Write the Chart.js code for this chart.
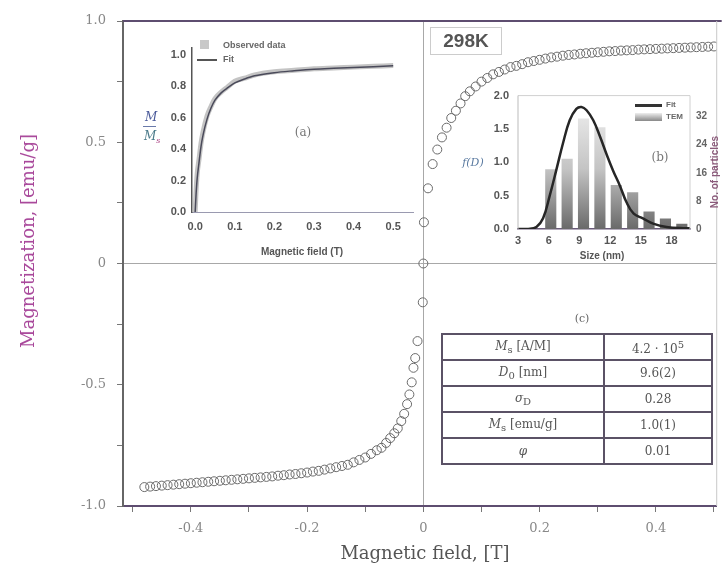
<!DOCTYPE html>
<html>
<head>
<meta charset="utf-8">
<script src="https://cdn.jsdelivr.net/npm/chart.js@4.4.0/dist/chart.umd.min.js"></script>
<style>
  body { margin: 0; background: #fff; }
  #wrap { position: relative; width: 723px; height: 567px; overflow: hidden; font-family: 'Liberation Sans', Arial, sans-serif; }
  canvas { position: absolute; }
  .lbl { position: absolute; white-space: nowrap; line-height: 1; }
  .serif { font-family: 'DejaVu Serif', serif; }
  .small { font-weight: bold; color: #666; }
  #params { position: absolute; left: 441px; top: 333px; width: 272px; border-collapse: collapse; }
  #params td { border: 2px solid #5b5266; height: 24px; padding: 0; text-align: center; font-family: 'DejaVu Serif', serif; font-size: 12px; color: #555; }
</style>
</head>
<body>
<div id="wrap">
  <canvas id="mainChart" width="723" height="567" style="left:0;top:0"></canvas>
  <canvas id="insetA" width="290" height="230" style="left:130px;top:35px"></canvas>
  <canvas id="insetB" width="263" height="190" style="left:460px;top:80px"></canvas>

  <!-- main axis titles -->
  <div class="lbl serif" style="left:425px;top:553px;transform:translate(-50%,-50%);font-size:18px;color:#555">Magnetic field, [T]</div>
  <div class="lbl serif" style="left:28px;top:241px;transform:translate(-50%,-50%) rotate(-90deg);font-size:18px;color:#a8479a">Magnetization, [emu/g]</div>

  <div class="lbl" style="left:430px;top:27px;width:70px;height:26px;border:1px solid #ccc;font-weight:bold;font-size:19px;color:#555;text-align:center;line-height:26px">298K</div>

  <!-- inset (a) texts -->
  <div class="lbl" style="left:200px;top:40px;width:9px;height:9px;background:#c8c8c8"></div>
  <div class="lbl small" style="left:223px;top:41px;font-size:9px">Observed data</div>
  <div class="lbl" style="left:197px;top:59px;width:20px;height:2px;background:#555"></div>
  <div class="lbl small" style="left:223px;top:55px;font-size:9px">Fit</div>
  <div class="lbl serif" style="left:145px;top:111px;font-size:12px;font-style:italic;color:#4a5a9a">M</div>
  <div class="lbl" style="left:143px;top:126px;width:13px;height:1px;background:#6a7aaa"></div>
  <div class="lbl serif" style="left:144px;top:130px;font-size:12px;font-style:italic;color:#4a7a8a">M<sub style="font-size:8px;color:#b04a8a">s</sub></div>
  <div class="lbl serif" style="left:303px;top:132px;transform:translate(-50%,-50%);font-size:12px;color:#777">(a)</div>
  <div class="lbl small" style="left:302px;top:252px;transform:translate(-50%,-50%);font-size:10px;color:#555">Magnetic field (T)</div>

  <!-- inset (b) texts -->
  <div class="lbl serif" style="left:473px;top:162px;transform:translate(-50%,-50%);font-size:11px;font-style:italic;color:#5a7aa0">f(D)</div>
  <div class="lbl serif" style="left:660px;top:157px;transform:translate(-50%,-50%);font-size:12px;color:#777">(b)</div>
  <div class="lbl" style="left:635px;top:104px;width:27px;height:3px;background:#333"></div>
  <div class="lbl small" style="left:666px;top:101px;font-size:8px">Fit</div>
  <div class="lbl" style="left:635px;top:113px;width:27px;height:8px;background:linear-gradient(#eee,#888)"></div>
  <div class="lbl small" style="left:666px;top:113px;font-size:8px">TEM</div>
  <div class="lbl small" style="left:602px;top:256px;transform:translate(-50%,-50%);font-size:10px;color:#555">Size (nm)</div>
  <div class="lbl small" style="left:715px;top:172px;transform:translate(-50%,-50%) rotate(-90deg);font-size:10px;color:#8a5a7a">No. of particles</div>

  <!-- table (c) -->
  <div class="lbl serif" style="left:582px;top:318px;transform:translate(-50%,-50%);font-size:11px;color:#666">(c)</div>
  <table id="params">
    <tr><td style="width:160px"><i>M</i><sub>s</sub> [A/M]</td><td>4.2 · 10<sup>5</sup></td></tr>
    <tr><td><i>D</i><sub>0</sub> [nm]</td><td>9.6(2)</td></tr>
    <tr><td><i>σ</i><sub>D</sub></td><td>0.28</td></tr>
    <tr><td><i>M</i><sub>s</sub> [emu/g]</td><td>1.0(1)</td></tr>
    <tr><td><i>φ</i></td><td>0.01</td></tr>
  </table>
</div>

<script>
// main loop: field (T) and magnetization (emu/g)
const fieldValues = [
  -0.48, -0.47, -0.46, -0.45, -0.44, -0.43, -0.42, -0.41, -0.40, -0.39,
  -0.38, -0.37, -0.36, -0.35, -0.34, -0.33, -0.32, -0.31, -0.30, -0.29,
  -0.28, -0.27, -0.26, -0.25, -0.24, -0.23, -0.22, -0.21, -0.20, -0.19,
  -0.18, -0.17, -0.16, -0.15, -0.14, -0.13, -0.12, -0.11, -0.10, -0.09,
  -0.080, -0.072, -0.064, -0.057, -0.050, -0.044, -0.038, -0.033, -0.028, -0.024,
  -0.020, -0.017, -0.014, -0.010, -0.001,
  0.000, 0.001, 0.008, 0.016, 0.024, 0.032, 0.040, 0.048, 0.056, 0.064,
  0.072, 0.080, 0.09, 0.10, 0.11, 0.12, 0.13, 0.14, 0.15, 0.16,
  0.17, 0.18, 0.19, 0.20, 0.21, 0.22, 0.23, 0.24, 0.25, 0.26,
  0.27, 0.28, 0.29, 0.30, 0.31, 0.32, 0.33, 0.34, 0.35, 0.36,
  0.37, 0.38, 0.39, 0.40, 0.41, 0.42, 0.43, 0.44, 0.45, 0.46,
  0.47, 0.48, 0.49, 0.50
];
const magValues = [
  -0.922, -0.920, -0.918, -0.916, -0.914, -0.912, -0.910, -0.908, -0.906, -0.904,
  -0.902, -0.900, -0.898, -0.896, -0.894, -0.892, -0.890, -0.888, -0.886, -0.884,
  -0.882, -0.880, -0.878, -0.875, -0.873, -0.870, -0.868, -0.865, -0.862, -0.858,
  -0.855, -0.850, -0.845, -0.840, -0.835, -0.830, -0.820, -0.810, -0.800, -0.785,
  -0.770, -0.760, -0.740, -0.720, -0.700, -0.680, -0.650, -0.620, -0.580, -0.540,
  -0.490, -0.430, -0.390, -0.320, -0.160,
  0.000, 0.170, 0.310, 0.410, 0.470, 0.520, 0.560, 0.600, 0.630, 0.660,
  0.690, 0.710, 0.730, 0.750, 0.765, 0.780, 0.790, 0.800, 0.810, 0.815,
  0.822, 0.830, 0.835, 0.840, 0.845, 0.850, 0.853, 0.857, 0.860, 0.862,
  0.865, 0.867, 0.869, 0.871, 0.873, 0.875, 0.876, 0.878, 0.879, 0.880,
  0.882, 0.883, 0.884, 0.885, 0.886, 0.887, 0.888, 0.889, 0.890, 0.891,
  0.892, 0.893, 0.894, 0.895
];
const mainXTicks = [-0.5, -0.4, -0.3, -0.2, -0.1, 0, 0.1, 0.2, 0.3, 0.4, 0.5];
const mainXLabels = ['', '-0.4', '', '-0.2', '', '0', '', '0.2', '', '0.4', ''];
const mainYTicks = [-1, -0.75, -0.5, -0.25, 0, 0.25, 0.5, 0.75, 1];
const mainYLabels = ['-1.0', '', '-0.5', '', '0', '', '0.5', '', '1.0'];

// inset (a): reduced magnetization M/Ms vs field
const insetAField = [0, 0.002, 0.005, 0.01, 0.015, 0.02, 0.03, 0.04, 0.05, 0.065, 0.08, 0.1, 0.125, 0.15, 0.2, 0.25, 0.3, 0.35, 0.4, 0.45, 0.5];
const insetAObserved = [0, 0.12, 0.24, 0.34, 0.44, 0.51, 0.61, 0.67, 0.72, 0.76, 0.79, 0.83, 0.85, 0.87, 0.89, 0.90, 0.91, 0.915, 0.92, 0.925, 0.93];
const insetAFit = [0, 0.10, 0.21, 0.32, 0.42, 0.49, 0.59, 0.66, 0.71, 0.755, 0.785, 0.82, 0.845, 0.865, 0.885, 0.897, 0.907, 0.913, 0.918, 0.923, 0.928];
const insetAXTicks = [0, 0.1, 0.2, 0.3, 0.4, 0.5];
const insetAYTicks = [0, 0.2, 0.4, 0.6, 0.8, 1.0];

// inset (b): size distribution
const sizeBins = [6.2, 7.8, 9.4, 11.0, 12.6, 14.2, 15.8, 17.4, 19.0];
const particleCounts = [17, 20, 31.5, 29, 12.5, 10.5, 5, 3, 1.5];
const fitSizes = [3, 4, 4.8, 5.45, 6.1, 6.75, 7.4, 8.05, 8.7, 9.2, 9.7, 10.35, 11.0, 11.65, 12.3, 12.95, 13.6, 14.3, 15.2, 16.2, 17.5, 19.4, 19.8];
const fitDensity = [0, 0, 0.03, 0.16, 0.5, 0.89, 1.29, 1.63, 1.80, 1.83, 1.78, 1.63, 1.39, 1.12, 0.87, 0.65, 0.40, 0.23, 0.16, 0.08, 0.03, 0.01, 0.01];
const sizeTicks = [3, 6, 9, 12, 15, 18];
const densityTicks = [0, 0.5, 1.0, 1.5, 2.0];
const countTicks = [0, 8, 16, 24, 32];

const serif = "'DejaVu Serif', serif";
const sans = "'Liberation Sans', Arial, sans-serif";

function setTicks(values) {
    return function(scale) {
        scale.ticks = values.map(v => ({ value: v }));
    };
}

// frame lines the axes don't draw
const framePlugin = {
    id: 'frame',
    afterDraw(chart, args, opts) {
        const { ctx, chartArea: a } = chart;
        ctx.save();
        if (opts.top) {
            ctx.strokeStyle = opts.top;
            ctx.lineWidth = opts.topWidth || 1;
            ctx.beginPath();
            ctx.moveTo(a.left, a.top);
            ctx.lineTo(a.right + (opts.topExtra || 0), a.top);
            ctx.stroke();
        }
        if (opts.right) {
            ctx.strokeStyle = opts.right;
            ctx.lineWidth = 1;
            ctx.beginPath();
            ctx.moveTo(a.right, a.top);
            ctx.lineTo(a.right, a.bottom);
            ctx.stroke();
        }
        if (opts.left) {
            ctx.strokeStyle = opts.left;
            ctx.lineWidth = 1;
            ctx.beginPath();
            ctx.moveTo(a.left, a.top);
            ctx.lineTo(a.left, a.bottom);
            ctx.stroke();
        }
        ctx.restore();
    }
};

function initializeMainChart() {
    const ctx = document.getElementById('mainChart').getContext('2d');
    new Chart(ctx, {
        type: 'scatter',
        data: {
            datasets: [{
                data: fieldValues.map((x, i) => ({ x: x, y: magValues[i] })),
                pointStyle: 'circle',
                pointRadius: 4.5,
                borderWidth: 1,
                borderColor: '#6a6a6a',
                backgroundColor: 'rgba(255, 255, 255, 0)'
            }]
        },
        options: {
            responsive: false,
            animation: false,
            events: [],
            layout: { padding: { top: 21, right: 5, left: 0, bottom: 0 } },
            plugins: {
                legend: { display: false },
                tooltip: { enabled: false },
                frame: { top: '#5e4d70', topWidth: 2, topExtra: 5, right: '#c8c8c8' }
            },
            scales: {
                x: {
                    type: 'linear',
                    min: -0.5167,
                    max: 0.5047,
                    afterBuildTicks: setTicks(mainXTicks),
                    afterFit: s => { s.height = 61; },
                    grid: {
                        color: c => (c.tick && c.tick.value === 0) ? '#a8a8a8' : 'rgba(0,0,0,0)',
                        tickColor: '#777',
                        tickLength: 6
                    },
                    border: { color: '#5e4d70', width: 2 },
                    ticks: {
                        padding: 9,
                        color: '#888',
                        font: { family: serif, size: 13 },
                        callback: (v, i) => mainXLabels[i]
                    }
                },
                y: {
                    min: -1,
                    max: 1,
                    afterBuildTicks: setTicks(mainYTicks),
                    afterFit: s => { s.width = 123; },
                    grid: {
                        color: c => (c.tick && c.tick.value === 0) ? '#a8a8a8' : 'rgba(0,0,0,0)',
                        tickColor: '#777',
                        tickLength: 6
                    },
                    border: { color: '#666', width: 2 },
                    ticks: {
                        padding: 11,
                        color: '#888',
                        font: { family: serif, size: 13 },
                        callback: (v, i) => mainYLabels[i]
                    }
                }
            }
        },
        plugins: [framePlugin]
    });
}

function initializeInsetA() {
    const ctx = document.getElementById('insetA').getContext('2d');
    new Chart(ctx, {
        type: 'line',
        data: {
            datasets: [
                {
                    label: 'Fit',
                    data: insetAField.map((x, i) => ({ x: x, y: insetAFit[i] })),
                    borderColor: '#4a4a5a',
                    borderWidth: 1.5,
                    pointRadius: 0,
                    cubicInterpolationMode: 'monotone'
                },
                {
                    label: 'Observed data',
                    data: insetAField.map((x, i) => ({ x: x, y: insetAObserved[i] })),
                    borderColor: '#c4c4c4',
                    borderWidth: 5,
                    pointRadius: 0,
                    cubicInterpolationMode: 'monotone'
                }
            ]
        },
        options: {
            responsive: false,
            animation: false,
            events: [],
            layout: { padding: { top: 10, right: 7, left: 0, bottom: 0 } },
            plugins: { legend: { display: false }, tooltip: { enabled: false } },
            scales: {
                x: {
                    type: 'linear',
                    min: -0.008,
                    max: 0.55,
                    afterBuildTicks: setTicks(insetAXTicks),
                    afterFit: s => { s.height = 53; },
                    grid: { color: 'rgba(0,0,0,0)', drawTicks: false },
                    border: { color: '#9a9ab0', width: 1, dash: [2, 2] },
                    ticks: {
                        padding: 8,
                        color: '#555',
                        font: { family: sans, size: 11, weight: 'bold' },
                        callback: v => v.toFixed(1)
                    }
                },
                y: {
                    min: 0,
                    max: 1.044,
                    afterBuildTicks: setTicks(insetAYTicks),
                    afterFit: s => { s.width = 62; },
                    grid: { color: 'rgba(0,0,0,0)', drawTicks: false },
                    border: { color: '#555', width: 1.5 },
                    ticks: {
                        padding: 6,
                        color: '#555',
                        font: { family: sans, size: 11, weight: 'bold' },
                        callback: v => v.toFixed(1)
                    }
                }
            }
        }
    });
}

function initializeInsetB() {
    const ctx = document.getElementById('insetB').getContext('2d');
    new Chart(ctx, {
        type: 'bar',
        data: {
            datasets: [
                {
                    type: 'line',
                    label: 'Fit',
                    data: fitSizes.map((x, i) => ({ x: x, y: fitDensity[i] })),
                    yAxisID: 'y',
                    borderColor: '#262626',
                    borderWidth: 2.5,
                    pointRadius: 0,
                    tension: 0.4,
                    order: 0
                },
                {
                    type: 'bar',
                    label: 'TEM',
                    data: sizeBins.map((x, i) => ({ x: x, y: particleCounts[i] })),
                    yAxisID: 'y2',
                    barPercentage: 0.85,
                    categoryPercentage: 0.8,
                    backgroundColor: function(context) {
                        const chart = context.chart;
                        const area = chart.chartArea;
                        if (!area) return '#aaa';
                        const g = chart.ctx.createLinearGradient(0, area.bottom, 0, area.top);
                        g.addColorStop(0, '#6a6a6a');
                        g.addColorStop(0.45, '#c4c4c4');
                        g.addColorStop(1, '#f4f4f4');
                        return g;
                    },
                    order: 1
                }
            ]
        },
        options: {
            responsive: false,
            animation: false,
            events: [],
            layout: { padding: { top: 13, right: 0, left: 0, bottom: 0 } },
            plugins: {
                legend: { display: false },
                tooltip: { enabled: false },
                frame: { top: '#d0d0d0', right: '#d0d0d0', left: '#bbbbbb' }
            },
            scales: {
                x: {
                    type: 'linear',
                    offset: false,
                    min: 3,
                    max: 19.8,
                    afterBuildTicks: setTicks(sizeTicks),
                    afterFit: s => { s.height = 41; },
                    grid: { color: 'rgba(0,0,0,0)', drawTicks: false },
                    border: { color: '#6a5a7a', width: 1.5 },
                    ticks: {
                        padding: 5,
                        color: '#555',
                        font: { family: sans, size: 11, weight: 'bold' }
                    }
                },
                y: {
                    position: 'left',
                    min: 0,
                    max: 2,
                    afterBuildTicks: setTicks(densityTicks),
                    afterFit: s => { s.width = 58; },
                    grid: { color: 'rgba(0,0,0,0)', drawTicks: false },
                    border: { display: false },
                    ticks: {
                        padding: 9,
                        color: '#555',
                        font: { family: sans, size: 11, weight: 'bold' },
                        callback: v => v.toFixed(1)
                    }
                },
                y2: {
                    position: 'right',
                    min: 0,
                    max: 38,
                    afterBuildTicks: setTicks(countTicks),
                    afterFit: s => { s.width = 33; },
                    grid: { display: false, drawTicks: false },
                    border: { display: false },
                    ticks: {
                        padding: 6,
                        color: '#666',
                        font: { family: sans, size: 10, weight: 'bold' }
                    }
                }
            }
        },
        plugins: [framePlugin]
    });
}

document.addEventListener('DOMContentLoaded', function() {
    initializeMainChart();
    initializeInsetA();
    initializeInsetB();
});
</script>
</body>
</html>
